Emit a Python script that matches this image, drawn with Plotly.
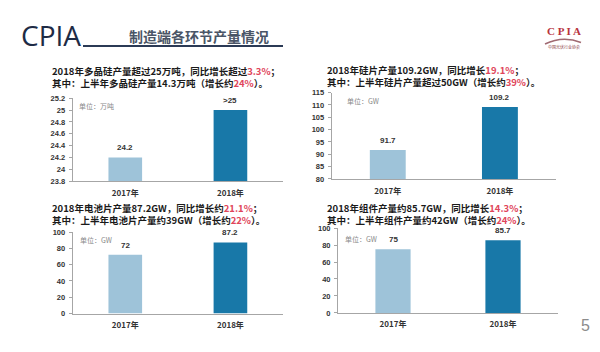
import plotly.graph_objects as go

W, H = 600, 352

# ---------------- data ----------------
categories = ["2017年", "2018年"]

poly_values = [24.2, 25]
poly_labels = ["24.2", ">25"]
poly_ticks = [23.8, 24, 24.2, 24.4, 24.6, 24.8, 25, 25.2]

wafer_values = [91.7, 109.2]
wafer_labels = ["91.7", "109.2"]
wafer_ticks = [80, 85, 90, 95, 100, 105, 110, 115]

cell_values = [72, 87.2]
cell_labels = ["72", "87.2"]
cell_ticks = [0, 20, 40, 60, 80, 100]

module_values = [75, 85.7]
module_labels = ["75", "85.7"]
module_ticks = [0, 20, 40, 60, 80, 100]

units = ["单位：万吨", "单位：GW", "单位：GW", "单位：GW"]

RED = "#e0455a"
def red(s):
    return f"<span style='color:{RED}'>{s}</span>"

titles = [
    ("2018年多晶硅产量超过25万吨，同比增长超过" + red("3.3%") + "；",
     "其中：上半年多晶硅产量14.3万吨（增长约" + red("24%") + "）。"),
    ("2018年硅片产量109.2GW，同比增长" + red("19.1%") + "；",
     "其中：上半年硅片产量超过50GW（增长约" + red("39%") + "）。"),
    ("2018年电池片产量87.2GW，同比增长约" + red("21.1%") + "；",
     "其中：上半年电池片产量约39GW（增长约" + red("22%") + "）。"),
    ("2018年组件产量约85.7GW，同比增长" + red("14.3%") + "；",
     "其中：上半年组件产量约42GW（增长约" + red("24%") + "）。"),
]

# ---------------- layout helpers ----------------
def px(x):
    return x / W

def py(y):
    return 1 - y / H

LIGHT = "#9ec3d9"
DARK = "#1878a8"
CJK = "Noto Sans CJK SC"

panels = [
    dict(v=poly_values, l=poly_labels, t=poly_ticks, r=[23.8, 25.2],
         xd=(72.7, 283), yd=(96.7, 181.7), tx=50, ty=74.5, u=(77, 105)),
    dict(v=wafer_values, l=wafer_labels, t=wafer_ticks, r=[80, 115],
         xd=(331.7, 556), yd=(91, 179.5), tx=325, ty=74, u=(345, 100)),
    dict(v=cell_values, l=cell_labels, t=cell_ticks, r=[0, 100],
         xd=(72.7, 283), yd=(234, 317.7), tx=50, ty=216, u=(78, 242.5)),
    dict(v=module_values, l=module_labels, t=module_ticks, r=[0, 100],
         xd=(338, 558), yd=(230, 317), tx=325, ty=215.5, u=(343, 241.5)),
]

fig = go.Figure()
annotations = []
layout_axes = {}

for i, p in enumerate(panels):
    n = "" if i == 0 else str(i + 1)
    xa, ya = "x" + n, "y" + n
    fig.add_trace(go.Bar(
        x=categories, y=p["v"], xaxis=xa, yaxis=ya, width=0.32,
        marker=dict(color=[LIGHT, DARK], line=dict(width=0)),
        showlegend=False, hoverinfo="skip",
    ))
    for c, v, lab in zip(categories, p["v"], p["l"]):
        annotations.append(dict(
            x=c, y=v, xref=xa, yref=ya, text=f"<b>{lab}</b>", showarrow=False,
            yanchor="bottom", yshift=3,
            font=dict(size=8, color="#333333", family="Liberation Sans"),
        ))
    layout_axes["xaxis" + n] = dict(
        domain=[px(p["xd"][0]), px(p["xd"][1])], anchor=ya,
        showline=True, linecolor="#a6a6a6", linewidth=1,
        ticks="", showgrid=False, zeroline=False,
        tickfont=dict(size=8, color="#333333", family=CJK, weight="bold"),
        ticklabelstandoff=4, fixedrange=True,
    )
    layout_axes["yaxis" + n] = dict(
        domain=[py(p["yd"][1]), py(p["yd"][0])], anchor=xa,
        range=p["r"], tickvals=p["t"],
        ticktext=[f"{t:g}" for t in p["t"]],
        showline=True, linecolor="#a6a6a6", linewidth=1,
        ticks="outside", ticklen=3, tickcolor="#a6a6a6",
        showgrid=False, zeroline=False,
        tickfont=dict(size=7.5, color="#333333", family="Liberation Sans", weight="bold"),
        ticklabelstandoff=2, fixedrange=True,
    )
    # two-line title as one block
    annotations.append(dict(
        x=px(p["tx"]), y=py(p["ty"]), xref="paper", yref="paper",
        text=f"<b>{titles[i][0]}</b><br><b>{titles[i][1]}</b>",
        showarrow=False, xanchor="left", yanchor="middle", align="left",
        font=dict(size=9.5, color="#1a1a1a", family=CJK),
    ))
    # unit label
    annotations.append(dict(
        x=px(p["u"][0]), y=py(p["u"][1]), xref="paper", yref="paper",
        text=units[i], showarrow=False, xanchor="left", yanchor="middle",
        font=dict(size=7, color="#8a8a8a", family=CJK),
    ))

# header
annotations.append(dict(
    x=px(19), y=py(32), xref="paper", yref="paper", text="CPIA",
    showarrow=False, xanchor="left", yanchor="middle",
    font=dict(size=28, color="#1e2b45", family="Open Sans"),
))
annotations.append(dict(
    x=px(127), y=py(33), xref="paper", yref="paper", text="<b>制造端各环节产量情况</b>",
    showarrow=False, xanchor="left", yanchor="middle",
    font=dict(size=14, color="#4a5566", family=CJK),
))
# logo
annotations.append(dict(
    x=px(563.5), y=py(28), xref="paper", yref="paper", text="<b>C P I A</b>",
    showarrow=False, xanchor="center", yanchor="middle",
    font=dict(size=11, color="#b8333d", family="Liberation Sans Narrow"),
))
annotations.append(dict(
    x=px(564), y=py(44), xref="paper", yref="paper", text="中国光伏行业协会",
    showarrow=False, xanchor="center", yanchor="middle",
    font=dict(size=4, color="#8a3a40", family=CJK),
))
# page number
annotations.append(dict(
    x=px(585), y=py(330), xref="paper", yref="paper", text="5",
    showarrow=False, xanchor="center", yanchor="middle",
    font=dict(size=16, color="#8c8c8c", family="Liberation Sans"),
))

shapes = [
    dict(type="line", xref="paper", yref="paper",
         x0=px(83), x1=px(283), y0=py(43), y1=py(43),
         line=dict(color="#2b3a55", width=2)),
    dict(type="path", xref="paper", yref="paper",
         path=f"M {px(545)},{py(41)} Q {px(563)},{py(32)} {px(581)},{py(39.5)}",
         line=dict(color="#a06a72", width=1.5)),
]

fig.update_layout(
    width=W, height=H,
    margin=dict(l=0, r=0, t=0, b=0),
    paper_bgcolor="white", plot_bgcolor="white",
    annotations=annotations, shapes=shapes,
    showlegend=False,
    **layout_axes,
)

fig.write_html("out.html", config={"displayModeBar": False})
